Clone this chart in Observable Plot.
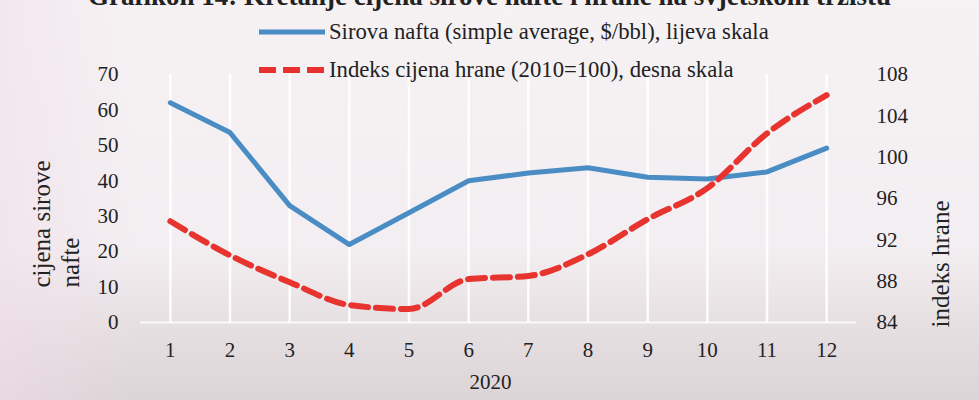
<!DOCTYPE html>
<html>
<head>
<meta charset="utf-8">
<script src="https://cdn.jsdelivr.net/npm/d3@7"></script>
<script src="https://cdn.jsdelivr.net/npm/@observablehq/plot@0.6"></script>
<style>
  html, body { margin: 0; padding: 0; }
  body { width: 979px; height: 400px; overflow: hidden; font-family: "Liberation Serif", serif; }
  #wrap { position: relative; width: 979px; height: 400px;
    background: linear-gradient(90deg, rgba(240,222,232,0.55) 0%, rgba(240,222,232,0) 14%, rgba(240,222,232,0) 100%),
                linear-gradient(180deg, #f6f2f4 0%, #f3eef1 62%, #e6dfe2 82%, #dcd4d7 100%); }
  #title { position: absolute; left: 0; width: 979px; top: -19px; text-align: center;
    font-weight: bold; font-size: 27px; color: #222; white-space: nowrap; }
  .leg { position: absolute; left: 258px; font-size: 22.7px; color: #222; white-space: nowrap; display: flex; align-items: center; }
  .leg svg { margin-right: 3px; }
  #chart { position: absolute; left: 0; top: 0; }
  #chart text { font-family: "Liberation Serif", serif; }
</style>
</head>
<body>
<div id="wrap">
  <div id="chart"></div>
  <div id="title">Grafikon 14: Kretanje cijena sirove nafte i hrane na svjetskom tržištu</div>
  <div class="leg" style="top:19px">
    <svg width="68" height="10"><line x1="1" y1="5" x2="67" y2="5" stroke="#4a8cc4" stroke-width="5"/></svg>
    <span>Sirova nafta (simple average, $/bbl), lijeva skala</span>
  </div>
  <div class="leg" style="top:57px">
    <svg width="68" height="10"><line x1="1" y1="5" x2="67" y2="5" stroke="#e8312c" stroke-width="6" stroke-dasharray="17,7"/></svg>
    <span>Indeks cijena hrane (2010=100), desna skala</span>
  </div>
</div>
<script>
const months = [1, 2, 3, 4, 5, 6, 7, 8, 9, 10, 11, 12];
const oil = [62.0, 53.6, 33.0, 22.0, 31.0, 40.0, 42.2, 43.7, 41.0, 40.5, 42.5, 49.2];
const food = [93.8, 90.5, 87.9, 85.7, 85.3, 88.2, 88.5, 90.6, 94.0, 97.0, 102.3, 106.0];
const leftTicks = [0, 10, 20, 30, 40, 50, 60, 70];
const rightTicks = [84, 88, 92, 96, 100, 104, 108];
const yearLabel = "2020";
const leftTitle = "cijena sirove\nnafte";
const rightTitle = "indeks hrane";

// right scale 84..108 mapped onto left scale 0..70
const toLeft = v => (v - 84) * 70 / 24;
const toRight = v => Math.round(v * 24 / 70 + 84);

const oilData = months.map((m, i) => ({m, v: oil[i]}));
const foodData = months.map((m, i) => ({m, v: toLeft(food[i])}));

const serif = "Liberation Serif, serif";

const chart = Plot.plot({
  width: 979,
  height: 400,
  marginLeft: 140,
  marginRight: 123,
  marginTop: 74,
  marginBottom: 78,
  style: {background: "transparent", fontFamily: serif, fontSize: "21px", color: "#222"},
  x: {type: "linear", domain: [0.5, 12.5], axis: null},
  y: {domain: [0, 70], axis: null},
  marks: [
    Plot.ruleX(months, {stroke: "#ffffff", strokeWidth: 2.5, strokeOpacity: 0.9}),
    Plot.ruleY([0], {stroke: "#ffffff", strokeWidth: 2, strokeOpacity: 0.8}),
    Plot.axisY({ticks: leftTicks, tickSize: 0, tickPadding: 22, label: null, fontSize: 21, fontFamily: serif}),
    Plot.axisY({anchor: "right", ticks: rightTicks.map(toLeft), tickFormat: toRight, tickSize: 0, tickPadding: 20, label: null, fontSize: 21, fontFamily: serif}),
    Plot.axisX({ticks: months, tickSize: 0, tickPadding: 20, label: null, fontSize: 21, fontFamily: serif}),
    Plot.text([yearLabel], {frameAnchor: "bottom", dy: 66, dx: -8, fontSize: 21, fontFamily: serif}),
    Plot.text([leftTitle], {frameAnchor: "bottom-left", dx: -62, dy: -35, rotate: -90, textAnchor: "start", lineHeight: 1.15, fontSize: 25, fontFamily: serif}),
    Plot.text([rightTitle], {frameAnchor: "right", dx: 84, dy: 2, rotate: -90, fontSize: 25, fontFamily: serif}),
    Plot.line(oilData, {x: "m", y: "v", stroke: "#4a8cc4", strokeWidth: 5}),
    Plot.line(foodData, {x: "m", y: "v", stroke: "#e8342f", strokeWidth: 6, strokeDasharray: "17,8", curve: "monotone-x"})
  ]
});
document.getElementById("chart").appendChild(chart);
</script>
</body>
</html>
